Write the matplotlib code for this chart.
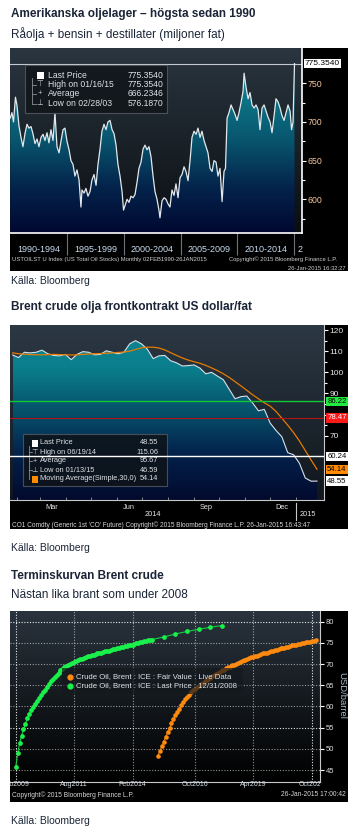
import matplotlib
matplotlib.use('Agg')
import matplotlib.pyplot as plt
import numpy as np
import pandas as pd
from matplotlib.colors import LinearSegmentedColormap
from matplotlib.patches import Rectangle, PathPatch
from matplotlib.transforms import Affine2D, blended_transform_factory, Bbox, TransformedBbox

W, H = 357, 836

# ---- panel 1: US oil stocks (million barrels) ----
stock_years = [1990.00, 1990.15, 1990.29, 1990.46, 1990.59, 1990.77, 1990.95, 1991.12, 1991.30, 1991.48,
               1991.65, 1991.83, 1992.00, 1992.18, 1992.36, 1992.53, 1992.71, 1992.89, 1993.06, 1993.24,
               1993.41, 1993.59, 1993.77, 1993.94, 1994.12, 1994.30, 1994.47, 1994.65, 1994.82, 1995.00,
               1995.18, 1995.35, 1995.53, 1995.70, 1995.88, 1996.06, 1996.23, 1996.32, 1996.50, 1996.67,
               1996.85, 1997.03, 1997.20, 1997.38, 1997.56, 1997.73, 1997.91, 1998.08, 1998.26, 1998.44,
               1998.61, 1998.79, 1998.97, 1999.14, 1999.32, 1999.49, 1999.67, 1999.85, 1999.98, 2000.11,
               2000.29, 2000.46, 2000.64, 2000.82, 2000.99, 2001.17, 2001.34, 2001.52, 2001.70, 2001.87,
               2002.05, 2002.22, 2002.40, 2002.58, 2002.75, 2002.93, 2003.11, 2003.19, 2003.37, 2003.55,
               2003.72, 2003.90, 2004.07, 2004.25, 2004.43, 2004.60, 2004.78, 2004.96, 2005.13, 2005.31,
               2005.48, 2005.66, 2005.84, 2006.01, 2006.19, 2006.37, 2006.54, 2006.72, 2006.89, 2007.07,
               2007.25, 2007.42, 2007.60, 2007.78, 2007.95, 2008.13, 2008.30, 2008.48, 2008.66, 2008.83,
               2008.96, 2009.10, 2009.27, 2009.45, 2009.63, 2009.80, 2009.98, 2010.15, 2010.33, 2010.51,
               2010.60, 2010.77, 2010.95, 2011.12, 2011.30, 2011.48, 2011.65, 2011.83, 2012.00, 2012.18,
               2012.36, 2012.53, 2012.71, 2012.89, 2013.06, 2013.24, 2013.41, 2013.59, 2013.77, 2013.94,
               2014.12, 2014.30, 2014.47, 2014.65, 2014.78, 2014.91, 2015.04]
stock_values = [705, 712, 700, 732, 722, 695, 680, 668, 685, 697,
                692, 694, 685, 672, 678, 668, 680, 684, 676, 686,
                673, 690, 676, 712, 668, 660, 675, 690, 692, 675,
                664, 650, 645, 630, 638, 625, 590, 612, 608, 614,
                604, 610, 625, 632, 618, 645, 665, 688, 697, 690,
                700, 702, 690, 685, 670, 645, 630, 610, 586, 592,
                600, 596, 604, 602, 606, 622, 640, 648, 665, 670,
                664, 668, 655, 630, 610, 600, 585, 576, 598, 602,
                600, 594, 590, 612, 605, 620, 602, 628, 632, 642,
                636, 624, 650, 680, 688, 684, 692, 680, 688, 676,
                668, 660, 640, 636, 650, 648, 630, 640, 597, 636,
                640, 705, 712, 722, 716, 710, 702, 712, 725, 740,
                763, 745, 730, 738, 722, 718, 722, 716, 690, 718,
                722, 714, 706, 700, 686, 708, 730, 726, 718, 708,
                702, 712, 722, 714, 690, 700, 775.354]
stock_last = 775.354
stock_spans = ['1990-1994', '1995-1999', '2000-2004', '2005-2009', '2010-2014']
stock_legend = [('Last Price', '775.3540'), ('High on 01/16/15', '775.3540'),
                ('Average', '666.2346'), ('Low on 02/28/03', '576.1870')]

# ---- panel 2: Brent front month, USD/bbl (weekly) ----
brent_dates = pd.date_range('2014-01-27', periods=53, freq='7D')
brent_close = [108.2, 107.0, 109.5, 109.2, 109.5, 110.5, 108.8, 108.0, 107.8, 108.5,
               106.0, 108.5, 109.8, 109.5, 108.3, 108.5, 110.2, 109.5, 108.8, 109.5,
               113.5, 115.0, 113.5, 111.0, 106.5, 107.8, 108.0, 105.5, 104.5, 103.0,
               103.2, 103.5, 102.0, 99.3, 100.0, 98.2, 96.5, 92.0, 87.5, 88.5,
               88.8, 85.5, 81.8, 82.5, 76.0, 72.5, 69.5, 62.0, 61.0, 57.0,
               50.0, 48.5, 48.55]
brent_ma30 = [109.2, 108.8, 108.6, 108.4, 108.3, 108.3, 108.4, 108.5, 108.4, 108.3,
              108.2, 108.3, 108.5, 108.7, 108.8, 108.9, 109.0, 109.2, 109.4, 109.6,
              110.0, 110.8, 111.6, 111.9, 111.9, 111.5, 110.6, 109.3, 108.0, 106.8,
              105.8, 105.0, 104.3, 103.3, 102.1, 100.8, 99.3, 97.6, 95.6, 93.6,
              91.5, 89.4, 87.5, 85.6, 84.0, 81.5, 78.3, 75.0, 71.5, 67.5,
              63.0, 58.5, 54.14]
brent_hlines = [86.22, 78.47, 60.24]
brent_months = ['Mar', 'Jun', 'Sep', 'Dec']
brent_yticks = [70, 80, 90, 100, 110, 120]
brent_ylabels = ['70', '', '90', '100', '110', '120']   # "80" sits behind the red 78.47 tag
brent_legend = [('Last Price', '48.55'), ('High on 06/19/14', '115.06'), ('Average', '95.67'),
                ('Low on 01/13/15', '46.59'), ('Moving Average(Simple,30,0)', '54.14')]

# ---- panel 3: Brent forward curves ----
curve_2008_dates = list(pd.date_range('2009-02-01', periods=71, freq='MS')) + \
    list(pd.to_datetime(['2015-06-01', '2015-12-01', '2016-06-01', '2016-12-01', '2017-06-01', '2017-12-01']))
curve_2008 = [45.6, 48.9, 51.3, 53.1, 54.6, 55.9, 57.2, 58.2, 59.1, 59.9,
              60.6, 61.3, 62.0, 62.6, 63.3, 64.0, 64.7, 65.3, 65.9, 66.4,
              67.0, 67.5, 68.0, 68.5, 68.9, 69.2, 69.5, 69.8, 70.0, 70.2,
              70.5, 70.7, 70.9, 71.1, 71.3, 71.4, 71.6, 71.8, 71.9, 72.1,
              72.2, 72.4, 72.5, 72.6, 72.7, 72.8, 73.0, 73.1, 73.2, 73.4,
              73.5, 73.6, 73.7, 73.9, 74.0, 74.1, 74.2, 74.3, 74.4, 74.5,
              74.6, 74.8, 74.9, 75.0, 75.2, 75.3, 75.4, 75.5, 75.6, 75.7,
              75.8, 76.4, 77.1, 77.7, 78.2, 78.7, 79.1]
curve_live_dates = pd.date_range('2015-03-01', periods=82, freq='MS')
curve_live = [48.4, 49.5, 50.6, 51.7, 52.9, 54.0, 55.0, 56.0, 57.1, 57.9,
              58.7, 59.5, 60.3, 61.0, 61.7, 62.3, 62.8, 63.3, 63.8, 64.2,
              64.6, 64.9, 65.3, 65.6, 65.9, 66.2, 66.5, 66.8, 67.1, 67.4,
              67.7, 68.0, 68.2, 68.5, 68.7, 69.0, 69.2, 69.4, 69.7, 69.9,
              70.1, 70.3, 70.5, 70.7, 70.9, 71.0, 71.2, 71.4, 71.6, 71.7,
              71.9, 72.0, 72.2, 72.3, 72.5, 72.6, 72.7, 72.9, 73.0, 73.2,
              73.3, 73.4, 73.5, 73.7, 73.8, 73.9, 74.0, 74.1, 74.3, 74.4,
              74.5, 74.6, 74.7, 74.8, 74.9, 75.0, 75.1, 75.2, 75.3, 75.4,
              75.5, 75.6]
curve_ticks = ['Feb2009', 'Aug2011', 'Feb2014', 'Oct2016', 'Apr2019', 'Oct2021']

plt.rcParams['font.family'] = ['Liberation Sans', 'DejaVu Sans']

fig = plt.figure(figsize=(W / 100, H / 100), dpi=100)
fig.patch.set_facecolor('white')
pix = Affine2D().scale(1 / W, -1 / H).translate(0, 1) + fig.transFigure
pixb = Affine2D().scale(1 / W, 1 / H) + fig.transFigure


def box(x0, y0, x1, y1):
    return [x0 / W, 1 - y1 / H, (x1 - x0) / W, (y1 - y0) / H]


def ftext(x, y, s, **kw):
    kw.setdefault('va', 'center')
    return fig.text(x, y, s, transform=pix, **kw)


def frame(x0, y0, x1, y1):
    a = fig.add_axes(box(x0, y0, x1, y1))
    a.set_facecolor('black')
    a.set_xticks([])
    a.set_yticks([])
    for s in a.spines.values():
        s.set_visible(False)
    return a


def paint_bg(ax, top, bottom):
    cmap = LinearSegmentedColormap.from_list('bg', [bottom, top])
    ax.imshow(np.linspace(0, 1, 200)[:, None], cmap=cmap, origin='lower', extent=[0, 1, 0, 1],
              transform=ax.transAxes, aspect='auto', zorder=0)


def paint_fill(ax, x, y, colors):
    x = np.asarray(x, float)
    y0, y1 = ax.get_ylim()
    poly = ax.fill_between(x, y, y0, facecolor='none', edgecolor='none')
    clip = PathPatch(poly.get_paths()[0], transform=ax.transData, fc='none', ec='none')
    ax.add_patch(clip)
    cmap = LinearSegmentedColormap.from_list('fill', colors)
    img = ax.imshow(np.linspace(0, 1, 200)[:, None], cmap=cmap, origin='lower',
                    extent=[x[0], x[-1], y0, y1], aspect='auto', zorder=1)
    img.set_clip_path(clip)


def tag(ax, y, s, fc, tc, size):
    tr = blended_transform_factory(ax.transAxes, ax.transData)
    ax.text(1.01, y, s, transform=tr, ha='left', va='center', fontsize=size, color=tc, zorder=20,
            clip_on=False, bbox=dict(boxstyle='square,pad=0.15', fc=fc, ec='none'))


DARK = '#1b2537'

# ================= panel 1 =================
ftext(11, 14, 'Amerikanska oljelager – högsta sedan 1990', fontsize=8.5, fontweight='bold', color=DARK)
ftext(11, 34, 'Råolja + bensin + destillater (miljoner fat)', fontsize=8.5, color=DARK)

frame(10, 48, 348, 271)
ax1 = fig.add_axes(box(10, 48, 302, 233))
xl1, yl1 = (1989.98, 2015.70), (556.4, 795.6)
ax1.set_xlim(*xl1)
ax1.set_ylim(*yl1)
paint_bg(ax1, '#2a353f', '#0a0e12')
paint_fill(ax1, stock_years, stock_values, ['#010830', '#04244c', '#08556e', '#0c7888', '#0e8494'])
ax1.plot(stock_years, stock_values, color='#e2e8ec', lw=0.9, zorder=3)
ax1.axhline(stock_last, color='#c4cad0', lw=0.8, zorder=2)
ax1.set_xlim(*xl1)
ax1.set_ylim(*yl1)
for s in ['top', 'left']:
    ax1.spines[s].set_visible(False)
for s in ['right', 'bottom']:
    ax1.spines[s].set_color('white')
    ax1.spines[s].set_linewidth(1.2)
ax1.yaxis.tick_right()
ax1.set_yticks([600, 650, 700, 750])
ax1.set_yticks([575, 625, 675, 725], minor=True)
ax1.tick_params(axis='y', which='both', colors='white', labelcolor='#f2c6a0', labelsize=6.3,
                length=3, width=0.8, pad=1)
ax1.tick_params(axis='y', which='minor', length=2)
ax1.set_xticks([1995, 2000, 2005, 2010, 2015])
ax1.set_xticklabels([])
ax1.set_xticks([1992.5, 1997.5, 2002.5, 2007.5, 2012.5], minor=True)
ax1.set_xticklabels(stock_spans, minor=True)
ax1.tick_params(axis='x', which='major', length=16, color='#6c737a', width=0.8)
ax1.tick_params(axis='x', which='minor', length=0, pad=8.8, labelsize=6.5, labelcolor='#c8dcf0')
ax1.text(2015.3, 249, '2', transform=blended_transform_factory(ax1.transData, pix),
         ha='left', va='center', fontsize=6.5, color='#c8dcf0')
tag(ax1, stock_last, '775.3540', 'white', 'black', 6)

ax1.add_patch(Rectangle((25, 65), 142, 48, transform=pix, fc='#12171c', ec='#50565e', lw=0.8,
                        alpha=0.92, zorder=8))
rows1 = [75, 84.5, 94, 103.5]
ax1.plot([32, 32], [78, 103.5], transform=pix, color='#8a9096', lw=0.6, zorder=9)
ax1.add_patch(Rectangle((37, 71.5), 6.5, 7, transform=pix, fc='white', ec='none', zorder=9))
for sym, yy in zip(['⊤', '+', '⊥'], rows1[1:]):
    ax1.plot([32, 36], [yy, yy], transform=pix, color='#8a9096', lw=0.6, zorder=9)
    ax1.text(40, yy, sym, transform=pix, ha='center', va='center', fontsize=5.5, color='#c8ccd0', zorder=9)
for (lab, val), yy in zip(stock_legend, rows1):
    ax1.text(48, yy, lab, transform=pix, ha='left', va='center', fontsize=6.2, color='#dde1e5', zorder=9)
    ax1.text(163, yy, val, transform=pix, ha='right', va='center', fontsize=6.2, color='#dde1e5', zorder=9)

ftext(12, 259, 'USTOILST U Index (US Total Oil Stocks) Monthly 02FEB1990-26JAN2015', fontsize=4.2, color='#d0d0d0')
ftext(229, 259, 'Copyright© 2015 Bloomberg Finance L.P.', fontsize=4.2, color='#d0d0d0')
ftext(346, 268, '26-Jan-2015 16:32:27', fontsize=4.2, color='#d0d0d0', ha='right')
ftext(11, 281, 'Källa: Bloomberg', fontsize=7.5, color=DARK)

# ================= panel 2 =================
ftext(11, 307, 'Brent crude olja frontkontrakt US dollar/fat', fontsize=8.6, fontweight='bold', color=DARK)

frame(10, 325, 348, 529)
ax2 = fig.add_axes(box(10, 325, 324, 500))
bx = (brent_dates - pd.Timestamp('2014-01-01')).days.values.astype(float)
xl2, yl2 = (22.8, 398.4), (39.6, 122.4)
ax2.set_xlim(*xl2)
ax2.set_ylim(*yl2)
paint_bg(ax2, '#2c3844', '#10161c')
paint_fill(ax2, bx, brent_close, ['#020a2e', '#03204a', '#06506a', '#0a7e8c', '#0b8896'])
ax2.plot(bx, brent_close, color='#d8e0e8', lw=0.8, zorder=3)
ax2.plot(bx, brent_ma30, color='#e87a00', lw=0.9, zorder=4)
ax2.axhline(brent_hlines[0], color='#14c834', lw=1.0, zorder=5)
ax2.axhline(brent_hlines[1], color='#b01414', lw=0.8, zorder=5)
ax2.axhline(brent_hlines[2], color='white', lw=1.0, zorder=12)
ax2.set_xlim(*xl2)
ax2.set_ylim(*yl2)
for s in ['top', 'left']:
    ax2.spines[s].set_visible(False)
for s in ['right', 'bottom']:
    ax2.spines[s].set_color('#c8c8c8')
    ax2.spines[s].set_linewidth(0.8)
ax2.yaxis.tick_right()
ax2.set_yticks(brent_yticks)
ax2.set_yticklabels(brent_ylabels)
ax2.set_yticks([75, 85, 95, 105, 115], minor=True)
ax2.tick_params(axis='y', which='both', colors='white', labelcolor='#e6e6e6', labelsize=6,
                length=3, width=0.8, pad=1)
ax2.tick_params(axis='y', which='minor', length=2)
ax2.set_xticks([73, 165, 257, 348])
ax2.set_xticklabels(brent_months)
ax2.set_xticks([31, 59, 90, 120, 151, 181, 212, 243, 273, 304, 334, 365], minor=True)
ax2.tick_params(axis='x', which='major', length=0, pad=2.8, labelsize=5.3, labelcolor='#e6e6e6')
ax2.tick_params(axis='x', which='minor', length=2, color='#9a9a9a', direction='in')
bt2 = blended_transform_factory(ax2.transData, pix)
ax2.text(194, 515, '2014', transform=bt2, ha='center', va='center', fontsize=5.3, color='#e6e6e6')
ax2.text(379, 515, '2015', transform=bt2, ha='center', va='center', fontsize=5.3, color='#e6e6e6')
ax2.plot([365, 365], [503, 520], transform=bt2, color='#c8c8c8', lw=0.8, clip_on=False)
tag(ax2, 86.22, '86.22', '#22ea40', 'black', 5.6)
tag(ax2, 78.47, '78.47', '#ff1a1a', 'white', 5.6)
tag(ax2, 60.24, '60.24', 'white', 'black', 5.6)
tag(ax2, 54.14, '54.14', '#ff8c00', 'black', 5.6)
tag(ax2, 48.55, '48.55', 'white', 'black', 5.6)

ax2.add_patch(Rectangle((23, 434), 144, 52, transform=pix, fc='#0e141a', ec='#50565e', lw=0.8,
                        alpha=0.88, zorder=8))
rows2 = [443, 452, 461, 470, 479]
ax2.plot([29, 29], [446, 479], transform=pix, color='#8a9096', lw=0.6, zorder=9)
ax2.add_patch(Rectangle((32, 439.5), 6, 7, transform=pix, fc='white', ec='none', zorder=9))
ax2.add_patch(Rectangle((32, 475.5), 6, 7, transform=pix, fc='#ff8c00', ec='none', zorder=9))
for sym, yy in zip(['⊤', '+', '⊥'], rows2[1:4]):
    ax2.plot([29, 32], [yy, yy], transform=pix, color='#8a9096', lw=0.6, zorder=9)
    ax2.text(35, yy, sym, transform=pix, ha='center', va='center', fontsize=5.3, color='#c8ccd0', zorder=9)
for (lab, val), yy in zip(brent_legend, rows2):
    ax2.text(40, yy, lab, transform=pix, ha='left', va='center', fontsize=5.3, color='#dde1e5', zorder=9)
    ax2.text(158, yy, val, transform=pix, ha='right', va='center', fontsize=5.3, color='#dde1e5', zorder=9)

ftext(12, 525, "CO1 Comdty (Generic 1st 'CO' Future) Copyright© 2015 Bloomberg Finance L.P. 26-Jan-2015 16:43:47",
      fontsize=4.7, color='#d8d8d8')
ftext(11, 548, 'Källa: Bloomberg', fontsize=7.5, color=DARK)

# ================= panel 3 =================
ftext(11, 576, 'Terminskurvan Brent crude', fontsize=8.5, fontweight='bold', color=DARK)
ftext(11, 595, 'Nästan lika brant som under 2008', fontsize=8.5, color=DARK)

frame(10, 611, 348, 802)
ax3 = fig.add_axes(box(10, 611, 320, 782))
xl3, yl3 = (2008.839, 2022.105), (42.17, 82.53)
ax3.set_xlim(*xl3)
ax3.set_ylim(*yl3)
paint_bg(ax3, '#2a343e', '#000000')


def to_year(d):
    return np.array([t.year + (t.month - 1) / 12 for t in d])


tick_years = [2009 + 1 / 12, 2011 + 7 / 12, 2014 + 1 / 12, 2016 + 9 / 12, 2019 + 3 / 12, 2021 + 9 / 12]
for i, ty in enumerate(tick_years):
    ax3.axvline(ty, color='white', lw=0.8, ls=(0, (1, 1.5)), alpha=0.9 if i in (0, 5) else 0.55, zorder=2)
for v in range(45, 81, 5):
    ax3.axhline(v, color='white', lw=0.8, ls=(0, (1, 1.5)), alpha=0.9 if v in (55, 80) else 0.55, zorder=2)

ax3.plot(to_year(curve_2008_dates), curve_2008, color='#10d040', lw=0.8, marker='o', ms=3.4,
         mfc='#1af04a', mec='none', zorder=4)
ax3.plot(to_year(curve_live_dates), curve_live, color='#ff8a10', lw=0.6, marker='o', ms=3.3,
         mfc='#ff8a10', mec='none', zorder=4)
ax3.set_xlim(*xl3)
ax3.set_ylim(*yl3)
for s in ['top', 'left']:
    ax3.spines[s].set_visible(False)
for s in ['right', 'bottom']:
    ax3.spines[s].set_color('#c8c8c8')
    ax3.spines[s].set_linewidth(0.8)
ax3.yaxis.tick_right()
ax3.set_yticks(range(45, 81, 5))
ax3.tick_params(axis='y', colors='white', labelcolor='#dcdcdc', labelsize=5.5, length=3, width=0.8, pad=1)
ax3.set_xticks([])
clipbox = TransformedBbox(Bbox([[10, H - 800], [320, H - 770]]), pixb)
bt3 = blended_transform_factory(ax3.transData, pix)
for ty, lab in zip(tick_years, curve_ticks):
    t = ax3.text(ty, 785, lab, transform=bt3, ha='center', va='center', fontsize=5, color='#d4dce4')
    t.set_clip_on(True)
    t.set_clip_box(clipbox)
ftext(342, 695, 'USD/barrel', fontsize=6.8, color='#a8b8c8', rotation=-90, ha='center')

ax3.add_patch(Rectangle((62, 668), 181, 26, transform=pix, fc='#14191e', ec='none', alpha=0.7, zorder=8))
ax3.plot([70], [677], transform=pix, marker='o', ms=3.5, color='#ff8a10', zorder=9)
ax3.plot([70], [686], transform=pix, marker='o', ms=3.5, color='#1af04a', zorder=9)
ax3.text(75.5, 677, 'Crude Oil, Brent : ICE : Fair Value : Live Data', transform=pix, fontsize=5.6,
         va='center', color='#dde2e6', zorder=9)
ax3.text(75.5, 686, 'Crude Oil, Brent : ICE : Last Price : 12/31/2008', transform=pix, fontsize=5.6,
         va='center', color='#dde2e6', zorder=9)

ftext(12, 795, 'Copyright© 2015 Bloomberg Finance L.P.', fontsize=4.8, color='#d8d8d8')
ftext(346, 795, '26-Jan-2015 17:00:42', fontsize=4.8, color='#d8d8d8', ha='right')
ftext(11, 821, 'Källa: Bloomberg', fontsize=7.5, color=DARK)

fig.savefig('out.png', dpi=100, facecolor='white')
